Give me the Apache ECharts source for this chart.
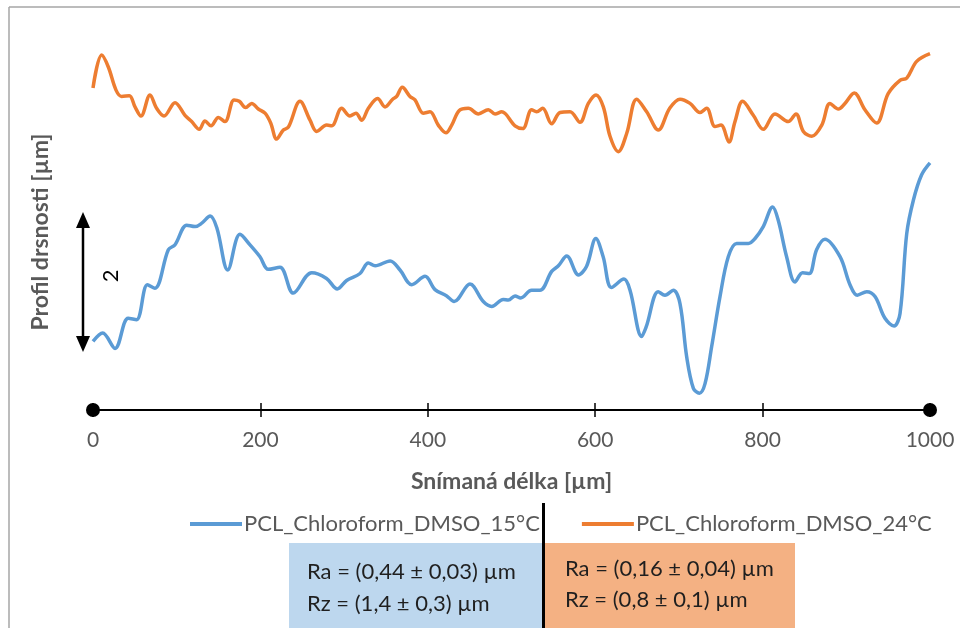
<!DOCTYPE html>
<html>
<head>
<meta charset="utf-8">
<script src="https://cdn.jsdelivr.net/npm/echarts@6/dist/echarts.min.js"></script>
<style>html,body{margin:0;padding:0;background:#fff}#c{width:960px;height:628px}</style>
</head>
<body>
<div id="c"></div>
<script>
const seriesNames = ['PCL_Chloroform_DMSO_15°C', 'PCL_Chloroform_DMSO_24°C'];
const xTicks = [0, 200, 400, 600, 800, 1000];
const blueX = [0, 11.6, 26.3, 42, 52, 65, 74, 90, 98, 112, 122, 130, 140, 148, 161, 175.6, 187.6, 199.5, 209.4, 223.4, 239.3, 261.3, 279, 291.9, 303, 319, 329, 337, 355, 366.8, 380.8, 396.7, 408.6, 422.6, 431.4, 450.4, 466.3, 476.3, 490.2, 496.2, 504.2, 511, 524, 534, 548, 556, 566, 580, 589.6, 600.8, 609.5, 619.5, 634.4, 641.6, 655.5, 661, 675.3, 683.4, 693.3, 701.3, 709.3, 717.3, 724.5, 731.3, 739.2, 749.1, 759, 769, 783, 791, 800.8, 812, 818.7, 828.7, 838.7, 847.8, 855.8, 864.5, 874.5, 892.5, 904.4, 913.2, 924.4, 934.3, 946.2, 957, 964.2, 972.2, 980.2, 990, 1000];
const blueY = [0.98, 1.10, 0.88, 1.31, 1.29, 1.79, 1.74, 2.29, 2.36, 2.64, 2.62, 2.67, 2.77, 2.60, 2.00, 2.51, 2.36, 2.19, 2.01, 2.04, 1.67, 1.96, 1.88, 1.73, 1.85, 1.95, 2.10, 2.06, 2.13, 2.00, 1.79, 1.91, 1.72, 1.63, 1.55, 1.80, 1.55, 1.48, 1.58, 1.57, 1.63, 1.60, 1.71, 1.71, 1.98, 2.06, 2.20, 1.93, 2.05, 2.45, 2.19, 1.75, 1.87, 1.71, 1.05, 1.19, 1.69, 1.64, 1.71, 1.52, 0.76, 0.31, 0.24, 0.38, 0.91, 1.62, 2.19, 2.38, 2.38, 2.45, 2.62, 2.90, 2.71, 2.19, 1.83, 1.96, 1.95, 2.29, 2.44, 2.19, 1.79, 1.64, 1.69, 1.62, 1.31, 1.20, 1.38, 2.52, 3.00, 3.36, 3.53];
const orangeX = [0, 10.4, 18.3, 27.5, 34.2, 43.4, 50.2, 57.3, 68.1, 76, 84.8, 98, 109.9, 117.9, 127, 133.8, 141, 149.8, 157.7, 168.5, 174.8, 182.4, 189.6, 197.5, 205.5, 212.3, 219.4, 227.4, 233.4, 247.3, 259.3, 267.3, 279.2, 285.2, 297.1, 307, 314.2, 321, 329, 340, 348.9, 358, 362.8, 369.5, 378.7, 384.7, 394.6, 402.6, 412.5, 421.7, 428.6, 437.6, 448.4, 460.4, 472.3, 480.3, 488.3, 504.2, 513.4, 524, 530, 537.2, 548, 558, 569.9, 581.8, 591.8, 601, 609.7, 617.7, 627.6, 637.6, 649.5, 661.5, 675.4, 689, 701.3, 713.3, 725.2, 733.2, 743.1, 750.3, 759.8, 767, 776.1, 788.9, 800.8, 814.8, 830.7, 839.9, 848.7, 858.7, 870.7, 880.5, 890.5, 898.4, 909.5, 922.3, 936.2, 950, 964.2, 972.2, 984.1, 1000];
const orangeY = [4.60, 5.07, 4.90, 4.57, 4.48, 4.49, 4.33, 4.20, 4.50, 4.31, 4.20, 4.39, 4.21, 4.12, 4.01, 4.13, 4.06, 4.18, 4.12, 4.43, 4.41, 4.32, 4.38, 4.30, 4.24, 4.10, 3.87, 4.00, 4.04, 4.41, 4.14, 3.98, 4.07, 4.06, 4.31, 4.20, 4.24, 4.14, 4.31, 4.45, 4.33, 4.44, 4.48, 4.61, 4.48, 4.43, 4.24, 4.26, 4.07, 3.96, 4.07, 4.28, 4.31, 4.23, 4.29, 4.23, 4.26, 4.06, 4.02, 4.29, 4.26, 4.31, 4.09, 4.25, 4.26, 4.11, 4.38, 4.50, 4.33, 3.91, 3.69, 3.95, 4.44, 4.26, 4.00, 4.31, 4.44, 4.38, 4.25, 4.31, 4.05, 4.07, 3.83, 4.12, 4.41, 4.21, 4.01, 4.23, 4.12, 4.23, 3.98, 3.91, 4.07, 4.38, 4.30, 4.38, 4.53, 4.29, 4.10, 4.52, 4.71, 4.74, 4.98, 5.09];
const scaleBar = {x: -12, from: 0.83, length: 2, label: '2'};
const xTitle = 'Snímaná délka [µm]';
const yTitle = 'Profil drsnosti [µm]';
const boxBlue = ['Ra = (0,44 ± 0,03) µm', 'Rz = (1,4 ± 0,3) µm'];
const boxOrange = ['Ra = (0,16 ± 0,04) µm', 'Rz = (0,8 ± 0,1) µm'];

const FONT = 'Lato';
const GRAY = '#595959';
const chart = echarts.init(document.getElementById('c'));
const zip = (xs, ys) => xs.map((x, i) => [x, ys[i]]);

chart.setOption({
  animation: false,
  textStyle: {fontFamily: FONT},
  grid: {left: 93, right: 30, top: 25, bottom: 218},
  legend: {
    left: 185, top: 508, itemWidth: 52, itemHeight: 4, itemGap: 42, icon: 'rect',
    textStyle: {fontSize: 22, color: GRAY, fontFamily: FONT, padding: [0, 0, 0, -3]},
    data: seriesNames
  },
  xAxis: [{
    type: 'value', min: 0, max: 1000, interval: 200, position: 'bottom',
    axisLine: {show: true, onZero: false, lineStyle: {color: '#000', width: 2}, symbol: ['circle', 'circle'], symbolSize: [14, 14]},
    axisTick: {show: true, length: 7, lineStyle: {color: '#000', width: 1.5}},
    axisLabel: {color: GRAY, fontSize: 21, margin: 20, fontFamily: FONT, customValues: xTicks, formatter: v => String(v)},
    splitLine: {show: false},
    name: xTitle, nameLocation: 'middle', nameGap: 60,
    nameTextStyle: {fontSize: 23, fontWeight: 'bold', color: GRAY, fontFamily: FONT}
  }, {
    type: 'value', min: 0, max: 1000, interval: 200, position: 'bottom',
    axisLine: {show: false}, axisLabel: {show: false}, splitLine: {show: false},
    axisTick: {show: true, inside: true, length: 7, lineStyle: {color: '#000', width: 1.5}}
  }],
  yAxis: {type: 'value', min: 0, max: 5.5, show: false},
  series: [{
    name: seriesNames[0], type: 'line', data: zip(blueX, blueY), smooth: 0.35, showSymbol: false,
    lineStyle: {color: '#5B9BD5', width: 3.5}, itemStyle: {color: '#5B9BD5'}, clip: false
  }, {
    name: seriesNames[1], type: 'line', data: zip(orangeX, orangeY), smooth: 0.35, showSymbol: false,
    lineStyle: {color: '#ED7D31', width: 3.5}, itemStyle: {color: '#ED7D31'}, clip: false
  }]
});

const pTop = chart.convertToPixel({gridIndex: 0}, [scaleBar.x, scaleBar.from + scaleBar.length]);
const pBot = chart.convertToPixel({gridIndex: 0}, [scaleBar.x, scaleBar.from]);
const ax = Math.round(pTop[0]);
const head = 16, hw = 7;

chart.setOption({
  graphic: [
    {type: 'line', shape: {x1: 9, y1: 7, x2: 960, y2: 7}, style: {stroke: '#a6a6a6', lineWidth: 1.5}, silent: true},
    {type: 'line', shape: {x1: 9, y1: 7, x2: 9, y2: 628}, style: {stroke: '#a6a6a6', lineWidth: 1.5}, silent: true},
    {type: 'line', shape: {x1: ax, y1: pTop[1] + head - 2, x2: ax, y2: pBot[1] - head + 2}, style: {stroke: '#000', lineWidth: 2.5}},
    {type: 'polygon', shape: {points: [[ax, pTop[1]], [ax - hw, pTop[1] + head], [ax + hw, pTop[1] + head]]}, style: {fill: '#000'}},
    {type: 'polygon', shape: {points: [[ax, pBot[1]], [ax - hw, pBot[1] - head], [ax + hw, pBot[1] - head]]}, style: {fill: '#000'}},
    {type: 'text', x: ax + 28, y: (pTop[1] + pBot[1]) / 2 - 6, rotation: Math.PI / 2,
     style: {text: scaleBar.label, fontSize: 22, fill: '#000', fontFamily: FONT, align: 'center', verticalAlign: 'middle'}},
    {type: 'text', x: 41, y: 232, rotation: Math.PI / 2,
     style: {text: yTitle, fontSize: 23, fontWeight: 'bold', fill: GRAY, fontFamily: FONT, align: 'center', verticalAlign: 'middle'}},
    {type: 'rect', shape: {x: 289, y: 543, width: 255, height: 90}, style: {fill: '#BDD7EE'}},
    {type: 'rect', shape: {x: 544, y: 543, width: 251, height: 90}, style: {fill: '#F4B183'}},
    {type: 'line', shape: {x1: 543.5, y1: 503, x2: 543.5, y2: 628}, style: {stroke: '#000', lineWidth: 3}},
    {type: 'text', x: 307, y: 572, style: {text: boxBlue[0], fontSize: 22, fill: '#1f1f1f', fontFamily: FONT, verticalAlign: 'middle'}},
    {type: 'text', x: 307, y: 604, style: {text: boxBlue[1], fontSize: 22, fill: '#1f1f1f', fontFamily: FONT, verticalAlign: 'middle'}},
    {type: 'text', x: 565, y: 569, style: {text: boxOrange[0], fontSize: 22, fill: '#1f1f1f', fontFamily: FONT, verticalAlign: 'middle'}},
    {type: 'text', x: 565, y: 600, style: {text: boxOrange[1], fontSize: 22, fill: '#1f1f1f', fontFamily: FONT, verticalAlign: 'middle'}}
  ]
});
</script>
</body>
</html>
